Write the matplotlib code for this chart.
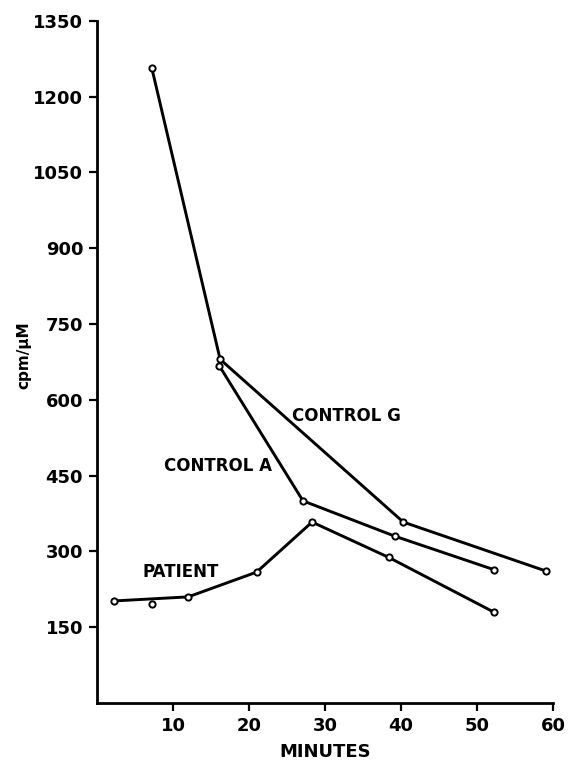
import matplotlib
matplotlib.use("Agg")
import matplotlib.pyplot as plt

# Data
control_g_x = [7.2, 16.2, 40.3, 59.1]
control_g_y = [1257, 680, 358, 261]
control_a_x = [16.1, 27.1, 39.2, 52.2]
control_a_y = [667, 400, 330, 264]
patient_x = [2.3, 12.0, 21.0, 28.3, 38.4, 52.2]
patient_y = [202, 210, 259, 358, 288, 180]
extra_x = [7.2]
extra_y = [195]

x_ticks = [10, 20, 30, 40, 50, 60]
y_ticks = [150, 300, 450, 600, 750, 900, 1050, 1200, 1350]

fig = plt.figure(figsize=(5.68, 7.61), dpi=100)
ax = fig.add_axes([0.1708, 0.0762, 0.8028, 0.8966])

mk = dict(marker='o', markersize=4.5, markerfacecolor='white', markeredgecolor='black',
          markeredgewidth=1.4, color='black', linewidth=2.1)
ax.plot(control_g_x, control_g_y, **mk)
ax.plot(control_a_x, control_a_y, **mk)
ax.plot(patient_x, patient_y, **mk)
ax.plot(extra_x, extra_y, linestyle='none', **{k: v for k, v in mk.items() if k != 'linewidth'})

ax.set_xlim(0, 60)
ax.set_ylim(0, 1350)
ax.set_xticks(x_ticks)
ax.set_yticks(y_ticks)
ax.set_xticklabels([str(t) for t in x_ticks])
ax.set_yticklabels([str(t) for t in y_ticks])
for s in ['top', 'right']:
    ax.spines[s].set_visible(False)
for s in ['left', 'bottom']:
    ax.spines[s].set_linewidth(2.0)
ax.tick_params(direction='out', length=6, width=1.6, labelsize=13, pad=4)
for lab in ax.get_xticklabels() + ax.get_yticklabels():
    lab.set_fontweight('bold')

ax.set_xlabel('MINUTES', fontsize=13, fontweight='bold', labelpad=6)
ax.set_ylabel('cpm/μM', fontsize=11, fontweight='bold', labelpad=10)
ax.yaxis.set_label_coords(-0.145, 0.51)

ax.text(25.7, 568, 'CONTROL G', fontsize=12, fontweight='bold', ha='left', va='center')
ax.text(8.8, 468, 'CONTROL A', fontsize=12, fontweight='bold', ha='left', va='center')
ax.text(6.0, 260, 'PATIENT', fontsize=12, fontweight='bold', ha='left', va='center')

fig.savefig('out.png', dpi=100)
